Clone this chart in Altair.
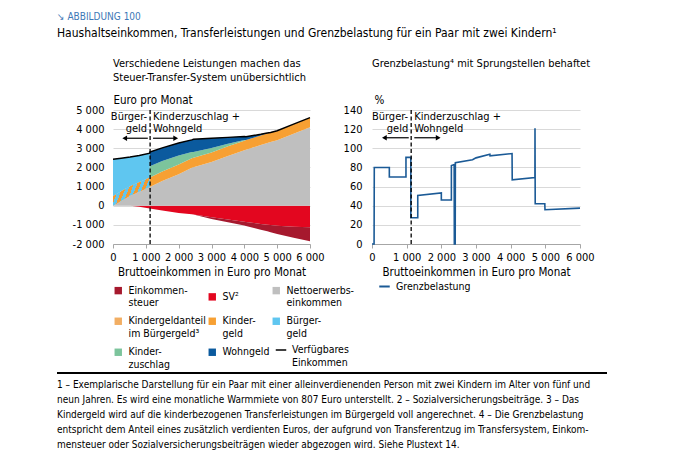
import json
import altair as alt
import pandas as pd

FONT = "Liberation Sans Narrow, DejaVu Sans Condensed, Arial Narrow, sans-serif"

# ---------------- left panel: income components (Euro per month) ----------------
gross = [0, 250, 520, 800, 1120, 1121, 1500, 2000, 2400, 2450, 3000, 3500, 4000, 4050, 4500, 4700, 4800, 5000, 5500, 6000]
einkommensteuer = [0, 0, 0, 0, 0, 0, 0, 0, 0, -5, -90, -140, -200, -210, -300, -345, -370, -425, -570, -730]
sozialvers = [0, 0, 0, -60, -140, -140, -250, -380, -440, -460, -600, -720, -840, -850, -950, -990, -1010, -1050, -1100, -1130]
netto = [0, 250, 520, 730, 980, 980, 1290, 1650, 1980, 2010, 2280, 2600, 2900, 2930, 3170, 3280, 3330, 3420, 3760, 4100]
kg_anteil = [500, 500, 500, 500, 500, 0, 0, 0, 0, 0, 0, 0, 0, 0, 0, 0, 0, 0, 0, 0]
kindergeld = [0, 0, 0, 0, 0, 500, 500, 500, 500, 500, 500, 500, 500, 500, 500, 500, 500, 500, 500, 500]
buergergeld = [1930, 1730, 1520, 1390, 1260, 0, 0, 0, 0, 0, 0, 0, 0, 0, 0, 0, 0, 0, 0, 0]
kinderzuschlag = [0, 0, 0, 0, 0, 580, 540, 470, 320, 300, 240, 140, 30, 0, 0, 0, 0, 0, 0, 0]
wohngeld = [0, 0, 0, 0, 0, 740, 690, 660, 640, 660, 500, 330, 180, 170, 60, 20, 0, 0, 0, 0]
verfuegbar = [2430, 2480, 2540, 2620, 2740, 2800, 3020, 3280, 3440, 3470, 3520, 3570, 3610, 3600, 3730, 3800, 3830, 3920, 4260, 4600]

area_names = ["Einkommensteuer", "SV²", "Nettoerwerbseinkommen", "Kindergeldanteil im Bürgergeld³",
              "Kindergeld", "Bürgergeld", "Kinderzuschlag", "Wohngeld"]
area_colors = ["#A6192E", "#E3061F", "#BFBFBF", "#F2AE63", "#F7A033", "#5FC6F0", "#7CC49C", "#0B5A9E"]
legend_labels = {
    "Einkommensteuer": ["Einkommen-", "steuer"],
    "SV²": ["SV²"],
    "Nettoerwerbseinkommen": ["Nettoerwerbs-", "einkommen"],
    "Kindergeldanteil im Bürgergeld³": ["Kindergeldanteil", "im Bürgergeld³"],
    "Kindergeld": ["Kinder-", "geld"],
    "Bürgergeld": ["Bürger-", "geld"],
    "Kinderzuschlag": ["Kinder-", "zuschlag"],
    "Wohngeld": ["Wohngeld"],
    "Verfügbares Einkommen": ["Verfügbares", "Einkommen"],
}

# ---------------- right panel: marginal burden (%) ----------------
g_x = [0, 60, 66, 500, 500, 980, 980, 1120, 1120, 1320, 1320, 2000, 2000, 2290, 2290, 2370, 2375, 2400, 2405,
       2900, 3000, 3400, 3405, 4040, 4045, 4700, 4702, 4708, 4985, 4990, 6000]
g_y = [0, 0, 80, 80, 70, 70, 90.5, 90.5, 27.4, 27.4, 50.8, 53.3, 46, 46, 82, 83, 0, 0, 85,
       88, 90, 93.7, 92.2, 94.5, 67, 69.5, 121, 42, 42, 35.8, 37.5]

# ---------------- annotations ----------------
regime_split = 1130
ann_left_words = ["Bürger-", "geld"]
ann_right_words = ["Kinderzuschlag +", "Wohngeld"]
ann_y_euro = [4635, 3985]
ann_y_pct = [133, 120]
arrow_y_euro = 3525
arrow_y_pct = 111
arrow_left = [1060, 357]
arrow_right = [1220, 1910]

footnote_lines = [
    "1 – Exemplarische Darstellung für ein Paar mit einer alleinverdienenden Person mit zwei Kindern im Alter von fünf und",
    "neun Jahren. Es wird eine monatliche Warmmiete von 807 Euro unterstellt.  2 – Sozialversicherungsbeiträge.  3 – Das",
    "Kindergeld wird auf die kinderbezogenen Transferleistungen im Bürgergeld voll angerechnet.  4 – Die Grenzbelastung",
    "entspricht dem Anteil eines zusätzlich verdienten Euros, der aufgrund von Transferentzug im Transfersystem, Einkom-",
    "mensteuer oder Sozialversicherungsbeiträgen wieder abgezogen wird. Siehe Plustext 14.",
]

# ---------------- tables ----------------
stack_series = [
    ("SV²", sozialvers), ("Einkommensteuer", einkommensteuer), ("Nettoerwerbseinkommen", netto),
    ("Kindergeldanteil im Bürgergeld³", kg_anteil), ("Kindergeld", kindergeld), ("Bürgergeld", buergergeld),
    ("Kinderzuschlag", kinderzuschlag), ("Wohngeld", wohngeld),
]
rows = []
for k, (name, vals) in enumerate(stack_series):
    for gx, v in zip(gross, vals):
        rows.append({"gross": gx, "value": v, "series": name, "ord": k})
long_df = pd.DataFrame(rows)
wide_df = pd.DataFrame({"gross": gross, "netto": netto, "kga": kg_anteil, "total": verfuegbar,
                        "series": ["Verfügbares Einkommen"] * len(gross)})
gb_df = pd.DataFrame({"gross": g_x, "gb": g_y, "i": list(range(len(g_x))),
                      "series": ["Grenzbelastung"] * len(g_x)})
foot_df = pd.DataFrame({"i": list(range(len(footnote_lines))), "line": footnote_lines})

ORANGE, LBLUE = "#F39A32", "#5FC6F0"
stops = []
n_str = 6
for k in range(n_str):
    a, b, c = k / n_str, (k + 0.5) / n_str, (k + 1) / n_str
    stops += [{"offset": a, "color": ORANGE}, {"offset": b, "color": ORANGE},
              {"offset": b, "color": LBLUE}, {"offset": c, "color": LBLUE}]
hatch_fill = {"gradient": "linear", "x1": 0, "y1": 0, "x2": 1, "y2": 0.3, "stops": stops}

label_expr = "(" + json.dumps(legend_labels, ensure_ascii=False) + ")[datum.label]"
LFS = 10.5

legend_areas = alt.Legend(
    title=None, orient="none", legendX=0, legendY=175, columns=3, direction="horizontal",
    labelExpr=label_expr, labelFont=FONT, labelFontSize=LFS, labelColor="black", labelBaseline="middle",
    labelOffset=5, columnPadding=1, rowPadding=7, symbolType="square", symbolSize=55,
    symbolStrokeWidth=0, symbolOpacity=1, labelLimit=200,
)
legend_line = alt.Legend(
    title=None, orient="none", legendX=162, legendY=234, labelExpr=label_expr,
    labelFont=FONT, labelFontSize=LFS, labelColor="black", labelBaseline="middle", labelOffset=5,
    symbolType="stroke", symbolSize=110, symbolStrokeWidth=1.5,
)

thousands = ("datum.value == 0 ? '0' : (datum.value < 0 ? '-' : '') + "
             "format(abs(datum.value) / 1000, 'd') + ' 000'")
x_scale = alt.Scale(domain=[0, 6000], nice=False)
x_axis = alt.Axis(values=[0, 1000, 2000, 3000, 4000, 5000, 6000], labelExpr=thousands,
                  title="Bruttoeinkommen in Euro pro Monat", grid=False, domainColor="#A6A6A6",
                  tickColor="#A6A6A6", tickSize=4, labelPadding=3, titlePadding=4,
                  labelOverlap=False, labelFlush=False)
yl_scale = alt.Scale(domain=[-2000, 5000], nice=False)
yl_axis = alt.Axis(values=[-2000, -1000, 0, 1000, 2000, 3000, 4000, 5000], labelExpr=thousands,
                   title="Euro pro Monat", titleAngle=0, titleAlign="left", titleX=0, titleY=-5,
                   titleBaseline="bottom", grid=True, gridColor="#D9D9D9", domain=False, ticks=False,
                   labelPadding=9, minExtent=56, labelFlush=False, labelOverlap=False)


def XL(f):
    return alt.X(f, scale=x_scale, axis=x_axis)


def YL(f, **kw):
    return alt.Y(f, scale=yl_scale, axis=yl_axis, **kw)


areas = alt.Chart(long_df).mark_area(opacity=1, interpolate="linear").encode(
    x=XL("gross:Q"), y=YL("value:Q", stack="zero"),
    fill=alt.Fill("series:N", scale=alt.Scale(domain=area_names, range=area_colors), legend=legend_areas),
    order=alt.Order("ord:Q"),
)
hatch = alt.Chart(wide_df).transform_filter(f"datum.gross <= {regime_split}").transform_calculate(
    top="datum.netto + datum.kga").mark_area(color=hatch_fill, opacity=1).encode(
    x=XL("gross:Q"), y=YL("netto:Q"), y2="top:Q")
total_line = alt.Chart(wide_df).mark_line(strokeWidth=1.5).encode(
    x=XL("gross:Q"), y=YL("total:Q"),
    stroke=alt.Stroke("series:N", scale=alt.Scale(domain=["Verfügbares Einkommen"], range=["#000000"]),
                      legend=legend_line),
)


def annotations(xa, ya, y_ann, y_arrow, word_l, word_r):
    split_df = pd.DataFrame({"x": [regime_split]})
    rule = alt.Chart(split_df).mark_rule(color="black", strokeDash=[4, 2.5], strokeWidth=1.3).encode(x=xa("x:Q"))
    tl = alt.Chart(pd.DataFrame({"x": [regime_split] * 2, "y": y_ann, "t": word_l})).mark_text(
        align="right", baseline="middle", dx=-3, font=FONT, fontSize=11, color="black").encode(
        x=xa("x:Q"), y=ya("y:Q"), text="t:N")
    tr = alt.Chart(pd.DataFrame({"x": [regime_split] * 2, "y": y_ann, "t": word_r})).mark_text(
        align="left", baseline="middle", dx=3, font=FONT, fontSize=11, color="black").encode(
        x=xa("x:Q"), y=ya("y:Q"), text="t:N")
    arr_df = pd.DataFrame({"x": [arrow_left[0], arrow_right[0]], "x2": [arrow_left[1], arrow_right[1]],
                           "y": [y_arrow, y_arrow]})
    arr = alt.Chart(arr_df).mark_rule(color="black", strokeWidth=1.2).encode(x=xa("x:Q"), x2="x2:Q", y=ya("y:Q"))
    headl = alt.Chart(pd.DataFrame({"x": [arrow_left[1]], "y": [y_arrow]})).mark_point(
        shape="triangle-left", filled=True, size=30, color="black", opacity=1).encode(x=xa("x:Q"), y=ya("y:Q"))
    headr = alt.Chart(pd.DataFrame({"x": [arrow_right[1]], "y": [y_arrow]})).mark_point(
        shape="triangle-right", filled=True, size=30, color="black", opacity=1).encode(x=xa("x:Q"), y=ya("y:Q"))
    return [rule, tl, tr, arr, headl, headr]


PANEL_TITLE = dict(anchor="start", frame="group", font=FONT, fontSize=11, fontWeight="normal",
                   lineHeight=14, offset=11, color="black")

left = alt.layer(areas, hatch, total_line,
                 *annotations(XL, YL, ann_y_euro, arrow_y_euro, ann_left_words, ann_right_words)
                 ).resolve_scale(fill="independent", stroke="independent").properties(
    width=197, height=134,
    title=alt.TitleParams(["Verschiedene Leistungen machen das", "Steuer-Transfer-System unübersichtlich"],
                          **PANEL_TITLE),
)

yr_scale = alt.Scale(domain=[0, 140], nice=False)
yr_axis = alt.Axis(values=[0, 20, 40, 60, 80, 100, 120, 140], title="%", titleAngle=0, titleAlign="left",
                   titleX=2, titleY=-5, titleBaseline="bottom", grid=True, gridColor="#D9D9D9",
                   domain=False, ticks=False, labelPadding=10, labelFlush=False)


def YR(f, **kw):
    return alt.Y(f, scale=yr_scale, axis=yr_axis, **kw)


legend_right = alt.Legend(title=None, orient="none", legendX=265, legendY=170, symbolType="stroke",
                          symbolStrokeWidth=2, symbolSize=110, labelFont=FONT, labelFontSize=LFS,
                          labelColor="black", labelOffset=5)
gb_line = alt.Chart(gb_df).mark_line(strokeWidth=1.6).encode(
    x=XL("gross:Q"), y=YR("gb:Q"), order=alt.Order("i:Q"),
    color=alt.Color("series:N", scale=alt.Scale(domain=["Grenzbelastung"], range=["#1B5A96"]),
                    legend=legend_right),
)
right = alt.layer(gb_line, *annotations(XL, YR, ann_y_pct, arrow_y_pct, ann_left_words, ann_right_words)
                  ).properties(
    width=208, height=134,
    title=alt.TitleParams(["Grenzbelastung⁴ mit Sprungstellen behaftet", " "], **PANEL_TITLE),
)

FOOT_X = -56
foot_rule = alt.Chart(pd.DataFrame({"a": [0]})).mark_rule(color="black", strokeWidth=2).encode(
    x=alt.value(FOOT_X), x2=alt.value(FOOT_X + 550), y=alt.value(-12))
foot_text = alt.Chart(foot_df).mark_text(align="left", baseline="middle", font=FONT, fontSize=10,
                                         color="black").encode(
    x=alt.value(FOOT_X),
    y=alt.Y("i:Q", scale=alt.Scale(domain=[0, 4], reverse=True, nice=False, zero=False), axis=None),
    text="line:N")
foot = alt.layer(foot_rule, foot_text).properties(width=494, height=60)

chart = alt.vconcat(
    alt.hconcat(left, right, spacing=62, bounds="flush"),
    foot, spacing=1,
).properties(
    title=alt.TitleParams("↘ ABBILDUNG 100",
                          subtitle="Haushaltseinkommen, Transferleistungen und Grenzbelastung für ein Paar mit zwei Kindern¹",
                          anchor="start", font=FONT, fontSize=10, fontWeight="normal", color="#3D77B6",
                          subtitleFont=FONT, subtitleFontSize=12, subtitleColor="black", subtitlePadding=6,
                          offset=19, dx=1),
    padding={"left": 48, "top": 4, "right": 5, "bottom": 0},
).configure_view(stroke=None).configure_axis(
    labelFont=FONT, titleFont=FONT, labelFontSize=11, titleFontSize=11.5, titleFontWeight="normal",
    labelColor="black", titleColor="black",
).configure_legend(labelFont=FONT)

chart.save("out.html", embed_options={"renderer": "svg", "actions": False})
